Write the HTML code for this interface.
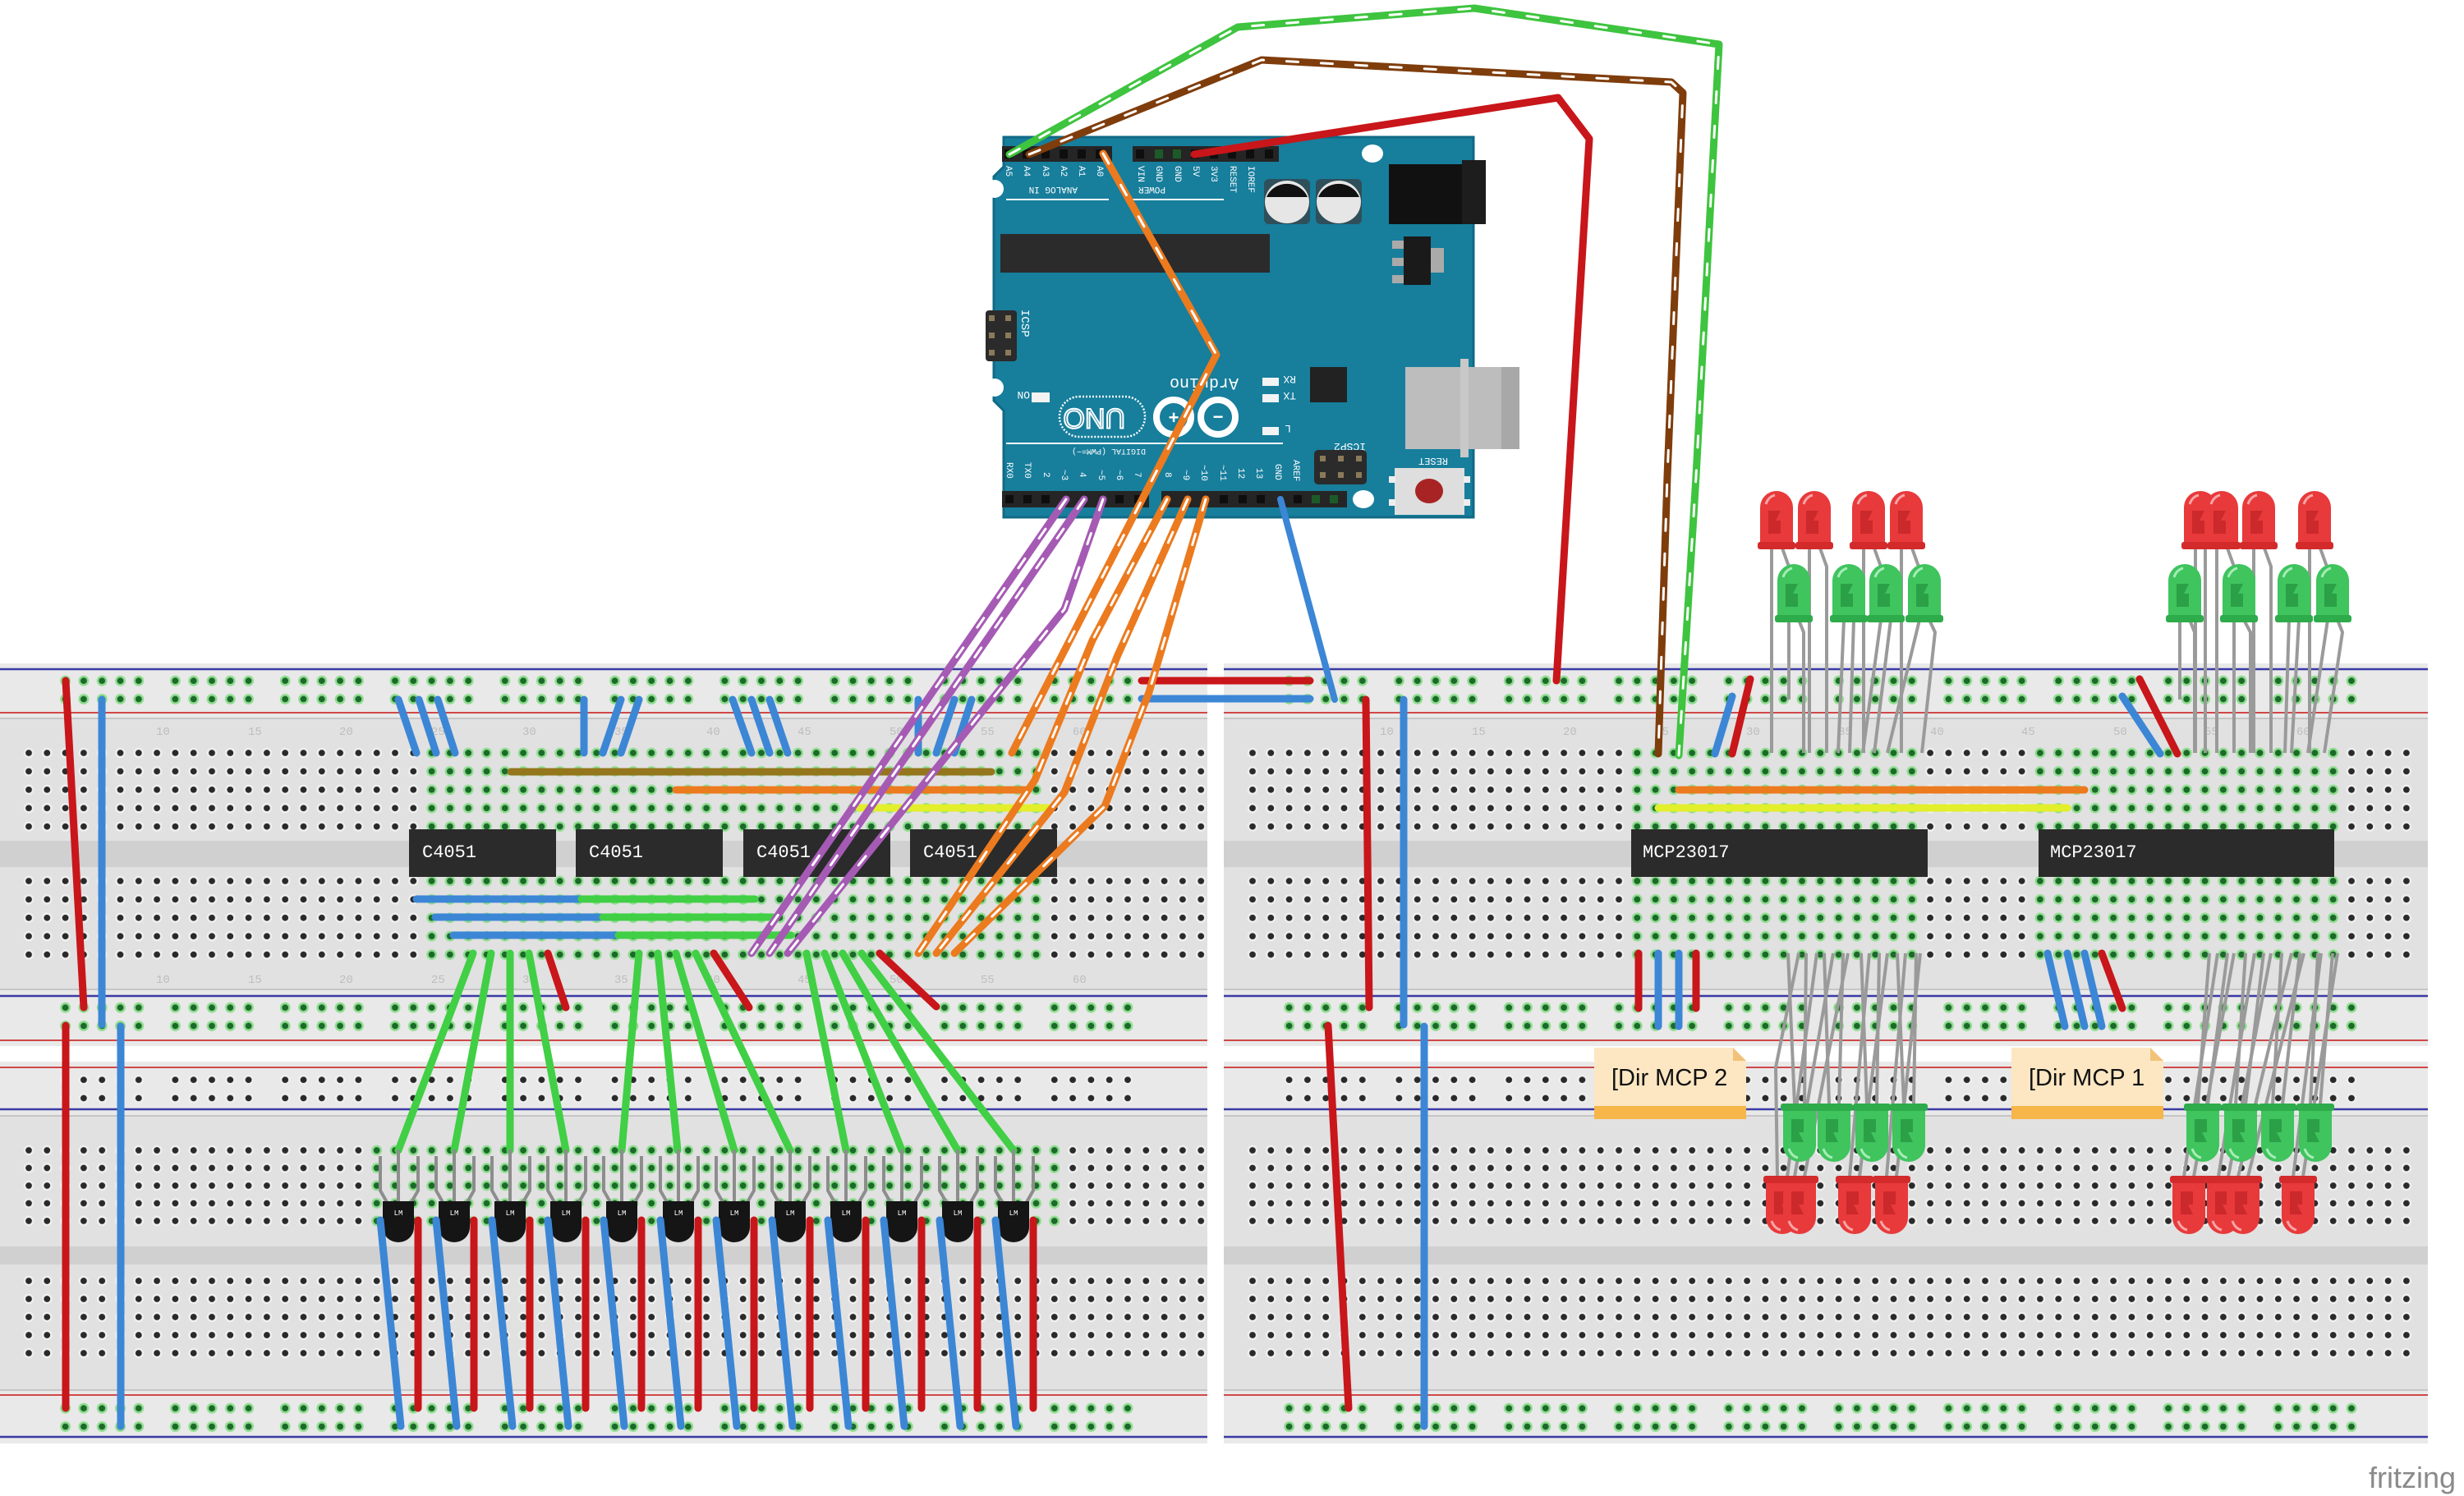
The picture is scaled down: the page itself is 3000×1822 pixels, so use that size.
<!DOCTYPE html>
<html><head><meta charset="utf-8"><style>
html,body{margin:0;padding:0;background:#fff}
svg{display:block}
</style></head><body>
<svg width="3000" height="1822" viewBox="0 0 3000 1822" xmlns="http://www.w3.org/2000/svg" font-family="Liberation Sans, sans-serif">
<defs>
<pattern id="hd" width="22.3" height="22.4" patternUnits="userSpaceOnUse"><circle cx="11.15" cy="11.2" r="6.2" fill="#f0f0f0"/><circle cx="11.15" cy="11.2" r="3.9" fill="#2a2a2a"/></pattern>
<pattern id="hg" width="22.3" height="22.4" patternUnits="userSpaceOnUse"><circle cx="11.15" cy="11.2" r="6.4" fill="#8fdc8f"/><circle cx="11.15" cy="11.2" r="3.9" fill="#1c6a2a"/></pattern>
<pattern id="hdB" width="22.3" height="21.5" patternUnits="userSpaceOnUse"><circle cx="11.15" cy="10.75" r="6.2" fill="#f0f0f0"/><circle cx="11.15" cy="10.75" r="3.9" fill="#2a2a2a"/></pattern>
<pattern id="hgB" width="22.3" height="21.5" patternUnits="userSpaceOnUse"><circle cx="11.15" cy="10.75" r="6.4" fill="#8fdc8f"/><circle cx="11.15" cy="10.75" r="3.9" fill="#1c6a2a"/></pattern>
<pattern id="hdC" width="22.3" height="22" patternUnits="userSpaceOnUse"><circle cx="11.15" cy="11" r="6.2" fill="#f0f0f0"/><circle cx="11.15" cy="11" r="3.9" fill="#2a2a2a"/></pattern>
<pattern id="rd" width="133.8" height="22.3" patternUnits="userSpaceOnUse">
<g fill="#f0f0f0"><circle cx="11.15" cy="11.15" r="6.2"/><circle cx="33.45" cy="11.15" r="6.2"/><circle cx="55.75" cy="11.15" r="6.2"/><circle cx="78.05" cy="11.15" r="6.2"/><circle cx="100.35" cy="11.15" r="6.2"/></g>
<g fill="#2a2a2a"><circle cx="11.15" cy="11.15" r="3.9"/><circle cx="33.45" cy="11.15" r="3.9"/><circle cx="55.75" cy="11.15" r="3.9"/><circle cx="78.05" cy="11.15" r="3.9"/><circle cx="100.35" cy="11.15" r="3.9"/></g></pattern>
<pattern id="rg" width="133.8" height="22.3" patternUnits="userSpaceOnUse">
<g fill="#8fdc8f"><circle cx="11.15" cy="11.15" r="6.4"/><circle cx="33.45" cy="11.15" r="6.4"/><circle cx="55.75" cy="11.15" r="6.4"/><circle cx="78.05" cy="11.15" r="6.4"/><circle cx="100.35" cy="11.15" r="6.4"/></g>
<g fill="#1c6a2a"><circle cx="11.15" cy="11.15" r="3.9"/><circle cx="33.45" cy="11.15" r="3.9"/><circle cx="55.75" cy="11.15" r="3.9"/><circle cx="78.05" cy="11.15" r="3.9"/><circle cx="100.35" cy="11.15" r="3.9"/></g></pattern>

<g id="ledR"><path d="M-20,70 L-20,20 A20,20 0 0 1 20,20 L20,70 Z" fill="#e8393b"/><rect x="-23" y="62" width="46" height="9" rx="3" fill="#d32a2c"/><path d="M-10,24 h15 l-6,12 h6 v16 h-15z" fill="#bf2226" opacity=".7"/><path d="M-13,16 q3,-9 11,-11" stroke="#f8a5a5" stroke-width="3" fill="none"/></g>
<g id="ledG"><path d="M-20,70 L-20,20 A20,20 0 0 1 20,20 L20,70 Z" fill="#3fc45e"/><rect x="-23" y="62" width="46" height="9" rx="3" fill="#2eab4b"/><path d="M-10,24 h15 l-6,12 h6 v16 h-15z" fill="#23913d" opacity=".7"/><path d="M-13,16 q3,-9 11,-11" stroke="#a6ecb6" stroke-width="3" fill="none"/></g>
<g id="lm">
<g stroke="#8d8d8d" stroke-width="4" fill="none"><path d="M0,8 V50 L8,64"/><path d="M22,0 V64"/><path d="M46,8 V50 L38,64"/></g>
<path d="M3,63 H41 V95 A19,18 0 0 1 3,95 Z" fill="#151515"/>
<text x="22" y="80" font-size="9" fill="#fff" text-anchor="middle" font-family="Liberation Mono, monospace">LM</text>
</g>
</defs>

<g id="boards">
<rect x="0" y="808" width="1470" height="466" fill="#e1e1e1"/>
<rect x="0" y="808" width="1470" height="67" fill="#e9e9e9"/>
<rect x="0" y="1205" width="1470" height="69" fill="#e9e9e9"/>
<rect x="0" y="1024" width="1470" height="32" fill="#d0d0d0"/>
<line x1="0" y1="815" x2="1470" y2="815" stroke="#3a3aa6" stroke-width="2.5"/>
<line x1="0" y1="868" x2="1470" y2="868" stroke="#d04848" stroke-width="2"/>
<line x1="0" y1="875" x2="1470" y2="875" stroke="#c6c6c6" stroke-width="2"/>
<line x1="0" y1="1205" x2="1470" y2="1205" stroke="#c6c6c6" stroke-width="2"/>
<line x1="0" y1="1213" x2="1470" y2="1213" stroke="#3a3aa6" stroke-width="2.5"/>
<line x1="0" y1="1267" x2="1470" y2="1267" stroke="#d04848" stroke-width="2"/>
<rect x="0" y="1293" width="1470" height="465" fill="#e1e1e1"/>
<rect x="0" y="1293" width="1470" height="66" fill="#e9e9e9"/>
<rect x="0" y="1693" width="1470" height="65" fill="#e9e9e9"/>
<rect x="0" y="1518" width="1470" height="22" fill="#d0d0d0"/>
<line x1="0" y1="1300" x2="1470" y2="1300" stroke="#d04848" stroke-width="2"/>
<line x1="0" y1="1351" x2="1470" y2="1351" stroke="#3a3aa6" stroke-width="2.5"/>
<line x1="0" y1="1359" x2="1470" y2="1359" stroke="#c6c6c6" stroke-width="2"/>
<line x1="0" y1="1693" x2="1470" y2="1693" stroke="#c6c6c6" stroke-width="2"/>
<line x1="0" y1="1699" x2="1470" y2="1699" stroke="#d04848" stroke-width="2"/>
<line x1="0" y1="1750" x2="1470" y2="1750" stroke="#3a3aa6" stroke-width="2.5"/>
<rect x="1490" y="808" width="1466" height="466" fill="#e1e1e1"/>
<rect x="1490" y="808" width="1466" height="67" fill="#e9e9e9"/>
<rect x="1490" y="1205" width="1466" height="69" fill="#e9e9e9"/>
<rect x="1490" y="1024" width="1466" height="32" fill="#d0d0d0"/>
<line x1="1490" y1="815" x2="2956" y2="815" stroke="#3a3aa6" stroke-width="2.5"/>
<line x1="1490" y1="868" x2="2956" y2="868" stroke="#d04848" stroke-width="2"/>
<line x1="1490" y1="875" x2="2956" y2="875" stroke="#c6c6c6" stroke-width="2"/>
<line x1="1490" y1="1205" x2="2956" y2="1205" stroke="#c6c6c6" stroke-width="2"/>
<line x1="1490" y1="1213" x2="2956" y2="1213" stroke="#3a3aa6" stroke-width="2.5"/>
<line x1="1490" y1="1267" x2="2956" y2="1267" stroke="#d04848" stroke-width="2"/>
<rect x="1490" y="1293" width="1466" height="465" fill="#e1e1e1"/>
<rect x="1490" y="1293" width="1466" height="66" fill="#e9e9e9"/>
<rect x="1490" y="1693" width="1466" height="65" fill="#e9e9e9"/>
<rect x="1490" y="1518" width="1466" height="22" fill="#d0d0d0"/>
<line x1="1490" y1="1300" x2="2956" y2="1300" stroke="#d04848" stroke-width="2"/>
<line x1="1490" y1="1351" x2="2956" y2="1351" stroke="#3a3aa6" stroke-width="2.5"/>
<line x1="1490" y1="1359" x2="2956" y2="1359" stroke="#c6c6c6" stroke-width="2"/>
<line x1="1490" y1="1693" x2="2956" y2="1693" stroke="#c6c6c6" stroke-width="2"/>
<line x1="1490" y1="1699" x2="2956" y2="1699" stroke="#d04848" stroke-width="2"/>
<line x1="1490" y1="1750" x2="2956" y2="1750" stroke="#3a3aa6" stroke-width="2.5"/>
</g>

<svg x="23.85" y="905.8" width="1450" height="112" overflow="visible"><rect width="1449.5" height="112" fill="url(#hd)"/></svg>
<svg x="514.45" y="905.8" width="760" height="112" overflow="visible"><rect width="758.2" height="112" fill="url(#hg)"/></svg>
<svg x="23.85" y="1061.8" width="1450" height="112" overflow="visible"><rect width="1449.5" height="112" fill="url(#hd)"/></svg>
<svg x="514.45" y="1061.8" width="760" height="112" overflow="visible"><rect width="758.2" height="112" fill="url(#hg)"/></svg>
<svg x="68.45" y="818" width="1340" height="46" overflow="visible"><rect width="1338" height="44.6" fill="url(#rg)"/></svg>
<svg x="68.45" y="1216" width="1340" height="46" overflow="visible"><rect width="1338" height="44.6" fill="url(#rg)"/></svg>
<svg x="23.85" y="1390.25" width="1450" height="108" overflow="visible"><rect width="1449.5" height="107.5" fill="url(#hdB)"/></svg>
<svg x="447.55" y="1390.25" width="850" height="108" overflow="visible"><rect width="847.4" height="107.5" fill="url(#hgB)"/></svg>
<svg x="23.85" y="1549" width="1450" height="110" overflow="visible"><rect width="1449.5" height="110" fill="url(#hdC)"/></svg>
<svg x="68.45" y="1304" width="1340" height="46" overflow="visible"><rect width="1338" height="44.6" fill="url(#rd)"/></svg>
<svg x="68.45" y="1704" width="1340" height="46" overflow="visible"><rect width="1338" height="44.6" fill="url(#rg)"/></svg>
<svg x="1513.85" y="905.8" width="1450" height="112" overflow="visible"><rect width="1427.2" height="112" fill="url(#hd)"/></svg>
<svg x="1982.15" y="905.8" width="360" height="112" overflow="visible"><rect width="356.8" height="112" fill="url(#hg)"/></svg>
<svg x="2472.75" y="905.8" width="380" height="112" overflow="visible"><rect width="379.1" height="112" fill="url(#hg)"/></svg>
<svg x="1513.85" y="1061.8" width="1450" height="112" overflow="visible"><rect width="1427.2" height="112" fill="url(#hd)"/></svg>
<svg x="1982.15" y="1061.8" width="360" height="112" overflow="visible"><rect width="356.8" height="112" fill="url(#hg)"/></svg>
<svg x="2472.75" y="1061.8" width="380" height="112" overflow="visible"><rect width="379.1" height="112" fill="url(#hg)"/></svg>
<svg x="1558.45" y="818" width="1340" height="46" overflow="visible"><rect width="1338" height="44.6" fill="url(#rg)"/></svg>
<svg x="1558.45" y="1216" width="1340" height="46" overflow="visible"><rect width="1338" height="44.6" fill="url(#rg)"/></svg>
<svg x="1513.85" y="1390.25" width="1450" height="108" overflow="visible"><rect width="1427.2" height="107.5" fill="url(#hdB)"/></svg>
<svg x="1513.85" y="1549" width="1450" height="110" overflow="visible"><rect width="1427.2" height="110" fill="url(#hdC)"/></svg>
<svg x="1558.45" y="1304" width="1340" height="46" overflow="visible"><rect width="1338" height="44.6" fill="url(#rd)"/></svg>
<svg x="1558.45" y="1704" width="1340" height="46" overflow="visible"><rect width="1338" height="44.6" fill="url(#rg)"/></svg>

<g font-size="14" fill="#bdbdbd" font-family="Liberation Mono, monospace">
<text x="190" y="895">10</text><text x="302" y="895">15</text><text x="413" y="895">20</text><text x="525" y="895">25</text><text x="636" y="895">30</text><text x="748" y="895">35</text><text x="860" y="895">40</text><text x="971" y="895">45</text><text x="1083" y="895">50</text><text x="1194" y="895">55</text><text x="1306" y="895">60</text>
<text x="190" y="1197">10</text><text x="302" y="1197">15</text><text x="413" y="1197">20</text><text x="525" y="1197">25</text><text x="636" y="1197">30</text><text x="748" y="1197">35</text><text x="860" y="1197">40</text><text x="971" y="1197">45</text><text x="1083" y="1197">50</text><text x="1194" y="1197">55</text><text x="1306" y="1197">60</text>
<text x="1680" y="895">10</text><text x="1792" y="895">15</text><text x="1903" y="895">20</text><text x="2015" y="895">25</text><text x="2126" y="895">30</text><text x="2238" y="895">35</text><text x="2350" y="895">40</text><text x="2461" y="895">45</text><text x="2573" y="895">50</text><text x="2684" y="895">55</text><text x="2796" y="895">60</text>
</g>

<g fill="#2b2b2b">
<rect x="498" y="1010" width="179" height="58"/><rect x="701" y="1010" width="179" height="58"/><rect x="905" y="1010" width="179" height="58"/><rect x="1108" y="1010" width="179" height="58"/>
<rect x="1986" y="1010" width="361" height="58"/><rect x="2482" y="1010" width="360" height="58"/>
</g>
<g fill="#fff" font-family="Liberation Mono, monospace" font-size="22">
<text x="514" y="1044">C4051</text><text x="717" y="1044">C4051</text><text x="921" y="1044">C4051</text><text x="1124" y="1044">C4051</text>
<text x="2000" y="1044">MCP23017</text><text x="2496" y="1044">MCP23017</text>
</g>

<g stroke-linecap="round" fill="none" stroke-width="9">
<line x1="80" y1="829" x2="102" y2="1227" stroke="#c8161a"/>
<line x1="124" y1="852" x2="124" y2="1248" stroke="#3c86d6"/>
<line x1="80" y1="1249" x2="80" y2="1715" stroke="#c8161a"/>
<line x1="147" y1="1250" x2="147" y2="1737" stroke="#3c86d6"/>
<g stroke="#3c86d6">
<line x1="485" y1="852" x2="507" y2="917"/><line x1="510" y1="852" x2="531" y2="917"/><line x1="533" y1="852" x2="554" y2="917"/>
<line x1="711" y1="852" x2="711" y2="917"/><line x1="756" y1="852" x2="734" y2="917"/><line x1="778" y1="852" x2="756" y2="917"/>
<line x1="892" y1="852" x2="915" y2="917"/><line x1="915" y1="852" x2="937" y2="917"/><line x1="937" y1="852" x2="959" y2="917"/>
<line x1="1118" y1="852" x2="1118" y2="917"/><line x1="1162" y1="852" x2="1140" y2="917"/><line x1="1183" y1="852" x2="1162" y2="917"/>
</g>
<line x1="622" y1="940" x2="1207" y2="940" stroke="#94771d"/>
<line x1="823" y1="962" x2="1252" y2="962" stroke="#ec7a1e"/>
<line x1="1046" y1="984" x2="1279" y2="984" stroke="#e2ef2a"/>
<line x1="507" y1="1095" x2="708" y2="1095" stroke="#3c86d6"/><line x1="708" y1="1095" x2="919" y2="1095" stroke="#41cf45"/>
<line x1="530" y1="1117" x2="734" y2="1117" stroke="#3c86d6"/><line x1="734" y1="1117" x2="941" y2="1117" stroke="#41cf45"/>
<line x1="552" y1="1139" x2="753" y2="1139" stroke="#3c86d6"/><line x1="753" y1="1139" x2="963" y2="1139" stroke="#41cf45"/>
<g stroke="#c8161a">
<line x1="667" y1="1161" x2="689" y2="1227"/><line x1="869" y1="1161" x2="912" y2="1227"/><line x1="1071" y1="1161" x2="1140" y2="1226"/>
</g>
<g stroke="#41cf45">
<line x1="576" y1="1161" x2="485" y2="1401"/><line x1="598" y1="1161" x2="553" y2="1401"/><line x1="621" y1="1161" x2="621" y2="1401"/><line x1="644" y1="1161" x2="689" y2="1401"/>
<line x1="778" y1="1161" x2="757" y2="1401"/><line x1="801" y1="1161" x2="825" y2="1401"/><line x1="823" y1="1161" x2="894" y2="1401"/><line x1="847" y1="1161" x2="962" y2="1401"/>
<line x1="982" y1="1161" x2="1030" y2="1401"/><line x1="1004" y1="1161" x2="1098" y2="1401"/><line x1="1026" y1="1161" x2="1166" y2="1401"/><line x1="1049" y1="1161" x2="1234" y2="1401"/>
</g>
</g>

<use href="#lm" x="463" y="1400"/><use href="#lm" x="531" y="1400"/><use href="#lm" x="599" y="1400"/><use href="#lm" x="667" y="1400"/>
<use href="#lm" x="735" y="1400"/><use href="#lm" x="804" y="1400"/><use href="#lm" x="872" y="1400"/><use href="#lm" x="940" y="1400"/>
<use href="#lm" x="1008" y="1400"/><use href="#lm" x="1076" y="1400"/><use href="#lm" x="1144" y="1400"/><use href="#lm" x="1212" y="1400"/>
<g stroke-linecap="round" fill="none" stroke-width="9">
<g stroke="#c8161a">
<line x1="509" y1="1486" x2="509" y2="1715"/><line x1="577" y1="1486" x2="577" y2="1715"/><line x1="645" y1="1486" x2="645" y2="1715"/><line x1="713" y1="1486" x2="713" y2="1715"/>
<line x1="781" y1="1486" x2="781" y2="1715"/><line x1="850" y1="1486" x2="850" y2="1715"/><line x1="918" y1="1486" x2="918" y2="1715"/><line x1="986" y1="1486" x2="986" y2="1715"/>
<line x1="1054" y1="1486" x2="1054" y2="1715"/><line x1="1122" y1="1486" x2="1122" y2="1715"/><line x1="1190" y1="1486" x2="1190" y2="1715"/><line x1="1258" y1="1486" x2="1258" y2="1715"/>
</g>
<g stroke="#3c86d6">
<line x1="463" y1="1486" x2="488" y2="1737"/><line x1="531" y1="1486" x2="556" y2="1737"/><line x1="599" y1="1486" x2="624" y2="1737"/><line x1="667" y1="1486" x2="692" y2="1737"/>
<line x1="735" y1="1486" x2="760" y2="1737"/><line x1="804" y1="1486" x2="829" y2="1737"/><line x1="872" y1="1486" x2="897" y2="1737"/><line x1="940" y1="1486" x2="965" y2="1737"/>
<line x1="1008" y1="1486" x2="1033" y2="1737"/><line x1="1076" y1="1486" x2="1101" y2="1737"/><line x1="1144" y1="1486" x2="1169" y2="1737"/><line x1="1212" y1="1486" x2="1237" y2="1737"/>
</g>
</g>

<g stroke-linecap="round" fill="none" stroke-width="9">
<line x1="1663" y1="852" x2="1667" y2="1227" stroke="#c8161a"/>
<line x1="1709" y1="852" x2="1709" y2="1248" stroke="#3c86d6"/>
<line x1="1617" y1="1249" x2="1642" y2="1715" stroke="#c8161a"/>
<line x1="1734" y1="1250" x2="1734" y2="1737" stroke="#3c86d6"/>
<line x1="2109" y1="848" x2="2088" y2="918" stroke="#3c86d6"/><line x1="2131" y1="827" x2="2109" y2="918" stroke="#c8161a"/>
<line x1="2584" y1="848" x2="2630" y2="918" stroke="#3c86d6"/><line x1="2605" y1="827" x2="2651" y2="918" stroke="#c8161a"/>
<line x1="2044" y1="962" x2="2538" y2="962" stroke="#ec7a1e"/>
<line x1="2019" y1="984" x2="2517" y2="984" stroke="#e2ef2a"/>
<line x1="1995" y1="1161" x2="1995" y2="1228" stroke="#c8161a"/><line x1="2019" y1="1161" x2="2019" y2="1250" stroke="#3c86d6"/><line x1="2044" y1="1161" x2="2044" y2="1250" stroke="#3c86d6"/><line x1="2065" y1="1161" x2="2065" y2="1228" stroke="#c8161a"/>
<line x1="2493" y1="1161" x2="2514" y2="1250" stroke="#3c86d6"/><line x1="2517" y1="1161" x2="2538" y2="1250" stroke="#3c86d6"/><line x1="2538" y1="1161" x2="2559" y2="1250" stroke="#3c86d6"/><line x1="2559" y1="1161" x2="2584" y2="1228" stroke="#c8161a"/>
<line x1="1390" y1="829" x2="1595" y2="829" stroke="#c8161a"/>
<line x1="1390" y1="851" x2="1595" y2="851" stroke="#3c86d6"/>
</g>

<g stroke="#9a9a9a" stroke-width="4" fill="none">
<path d="M2157,665 V917"/><path d="M2169,665 L2178,690"/><path d="M2203,665 V917"/><path d="M2215,665 L2224,690 V917"/><path d="M2269,665 V917"/><path d="M2281,665 L2290,690"/><path d="M2315,665 V917"/><path d="M2327,665 L2336,690"/>
<path d="M2178,755 V852"/><path d="M2190,755 L2196,770 V917"/><path d="M2245,755 L2238,917"/><path d="M2257,755 L2252,917"/><path d="M2290,755 L2268,917"/><path d="M2302,755 L2282,917"/><path d="M2337,755 L2298,917"/><path d="M2349,755 L2356,770 L2340,917"/>
<path d="M2673,665 V917"/><path d="M2685,665 V917"/><path d="M2699,665 V917"/><path d="M2711,665 L2720,690 V917"/><path d="M2744,665 V917"/><path d="M2756,665 L2765,690 V917"/><path d="M2812,665 V917"/><path d="M2824,665 L2833,690"/>
<path d="M2654,755 V852"/><path d="M2666,755 L2672,770 V917"/><path d="M2720,755 V852"/><path d="M2732,755 L2740,770 V917"/><path d="M2787,755 L2782,917"/><path d="M2799,755 L2790,917"/><path d="M2834,755 L2810,917"/><path d="M2846,755 L2852,770 L2830,917"/>
</g>
<use href="#ledR" x="2163" y="598"/><use href="#ledR" x="2209" y="598"/><use href="#ledR" x="2275" y="598"/><use href="#ledR" x="2321" y="598"/>
<use href="#ledG" x="2184" y="687"/><use href="#ledG" x="2251" y="687"/><use href="#ledG" x="2296" y="687"/><use href="#ledG" x="2343" y="687"/>
<use href="#ledR" x="2679" y="598"/><use href="#ledR" x="2705" y="598"/><use href="#ledR" x="2750" y="598"/><use href="#ledR" x="2818" y="598"/>
<use href="#ledG" x="2660" y="687"/><use href="#ledG" x="2726" y="687"/><use href="#ledG" x="2793" y="687"/><use href="#ledG" x="2840" y="687"/>

<g>
<path d="M1941,1276 H2110 L2126,1292 V1363 H1941 Z" fill="#fde7c2"/>
<path d="M2110,1276 V1292 H2126 Z" fill="#f2c27a"/>
<rect x="1941" y="1347" width="185" height="16" fill="#f6b64a"/>
<text x="1962" y="1322" font-size="29" fill="#111">[Dir MCP 2</text>
<path d="M2449,1276 H2618 L2634,1292 V1363 H2449 Z" fill="#fde7c2"/>
<path d="M2618,1276 V1292 H2634 Z" fill="#f2c27a"/>
<rect x="2449" y="1347" width="185" height="16" fill="#f6b64a"/>
<text x="2470" y="1322" font-size="29" fill="#111">[Dir MCP 1</text>
</g>

<g stroke="#9a9a9a" stroke-width="4" fill="none">
<path d="M2177,1161 L2185,1345"/><path d="M2199,1161 L2197,1345"/><path d="M2221,1161 L2227,1345"/><path d="M2244,1161 L2239,1345"/><path d="M2266,1161 L2273,1345"/><path d="M2288,1161 L2285,1345"/><path d="M2310,1161 L2318,1345"/><path d="M2333,1161 L2330,1345"/>
<path d="M2190,1161 L2162,1300 L2164,1433"/><path d="M2212,1161 L2176,1433"/><path d="M2232,1161 L2185,1433"/><path d="M2250,1161 L2197,1433"/><path d="M2276,1161 L2252,1433"/><path d="M2298,1161 L2264,1433"/><path d="M2320,1161 L2297,1433"/><path d="M2338,1161 L2309,1433"/>
<path d="M2690,1161 L2676,1345"/><path d="M2712,1161 L2688,1345"/><path d="M2734,1161 L2722,1345"/><path d="M2756,1161 L2734,1345"/><path d="M2778,1161 L2767,1345"/><path d="M2800,1161 L2779,1345"/><path d="M2822,1161 L2813,1345"/><path d="M2840,1161 L2825,1345"/>
<path d="M2700,1161 L2659,1433"/><path d="M2720,1161 L2671,1433"/><path d="M2745,1161 L2701,1433"/><path d="M2765,1161 L2713,1433"/><path d="M2790,1161 L2725,1433"/><path d="M2805,1161 L2737,1433"/><path d="M2826,1161 L2792,1433"/><path d="M2846,1161 L2804,1433"/>
</g>
<use href="#ledG" transform="translate(2191,1415) scale(1,-1)"/><use href="#ledG" transform="translate(2233,1415) scale(1,-1)"/><use href="#ledG" transform="translate(2279,1415) scale(1,-1)"/><use href="#ledG" transform="translate(2324,1415) scale(1,-1)"/>
<use href="#ledR" transform="translate(2170,1503) scale(1,-1)"/><use href="#ledR" transform="translate(2191,1503) scale(1,-1)"/><use href="#ledR" transform="translate(2258,1503) scale(1,-1)"/><use href="#ledR" transform="translate(2303,1503) scale(1,-1)"/>
<use href="#ledG" transform="translate(2682,1415) scale(1,-1)"/><use href="#ledG" transform="translate(2728,1415) scale(1,-1)"/><use href="#ledG" transform="translate(2773,1415) scale(1,-1)"/><use href="#ledG" transform="translate(2819,1415) scale(1,-1)"/>
<use href="#ledR" transform="translate(2665,1503) scale(1,-1)"/><use href="#ledR" transform="translate(2707,1503) scale(1,-1)"/><use href="#ledR" transform="translate(2731,1503) scale(1,-1)"/><use href="#ledR" transform="translate(2798,1503) scale(1,-1)"/>

<g>
<path d="M1222,167 H1794 V630 H1222 V500 L1210,488 V215 L1222,203 Z" fill="#177e9c" stroke="#106a86" stroke-width="3"/>
<circle cx="1211" cy="230" r="11" fill="#fff"/><circle cx="1211" cy="472" r="11" fill="#fff"/>
<ellipse cx="1671" cy="187" rx="13" ry="11" fill="#fff"/><ellipse cx="1660" cy="608" rx="13" ry="11" fill="#fff"/>
<rect x="1220" y="178" width="134" height="19" fill="#252525"/>
<rect x="1379" y="178" width="178" height="19" fill="#252525"/>
<g fill="#0e0e0e"><rect x="1223" y="182" width="10" height="11"/><rect x="1245" y="182" width="10" height="11"/><rect x="1268" y="182" width="10" height="11"/><rect x="1290" y="182" width="10" height="11"/><rect x="1312" y="182" width="10" height="11"/><rect x="1334" y="182" width="10" height="11"/>
<rect x="1383" y="182" width="10" height="11"/><rect x="1406" y="182" width="10" height="11" fill="#1d5a2a"/><rect x="1428" y="182" width="10" height="11" fill="#1d5a2a"/><rect x="1450" y="182" width="10" height="11"/><rect x="1473" y="182" width="10" height="11"/><rect x="1495" y="182" width="10" height="11"/><rect x="1517" y="182" width="10" height="11"/><rect x="1540" y="182" width="10" height="11"/></g>
<g fill="#fff" font-family="Liberation Mono, monospace" font-size="11">
<text transform="translate(1225,202) rotate(90)">A5</text><text transform="translate(1247,202) rotate(90)">A4</text><text transform="translate(1270,202) rotate(90)">A3</text><text transform="translate(1292,202) rotate(90)">A2</text><text transform="translate(1314,202) rotate(90)">A1</text><text transform="translate(1336,202) rotate(90)">A0</text>
<text transform="translate(1386,202) rotate(90)">VIN</text><text transform="translate(1408,202) rotate(90)">GND</text><text transform="translate(1431,202) rotate(90)">GND</text><text transform="translate(1453,202) rotate(90)">5V</text><text transform="translate(1475,202) rotate(90)">3V3</text><text transform="translate(1498,202) rotate(90)">RESET</text><text transform="translate(1520,202) rotate(90)">IOREF</text>
<text transform="translate(1312,228) rotate(180)">ANALOG IN</text><text transform="translate(1419,228) rotate(180)">POWER</text>
</g>
<line x1="1225" y1="243" x2="1350" y2="243" stroke="#fff" stroke-width="2"/><line x1="1376" y1="243" x2="1490" y2="243" stroke="#fff" stroke-width="2"/>
<rect x="1539" y="218" width="56" height="55" rx="6" fill="#2f4f5a"/><rect x="1602" y="218" width="56" height="55" rx="6" fill="#2f4f5a"/>
<ellipse cx="1567" cy="246" rx="27" ry="26" fill="#e6e6e6"/><ellipse cx="1630" cy="246" rx="27" ry="26" fill="#e6e6e6"/>
<path d="M1542,240 A27,26 0 0 1 1592,240 Z" fill="#111"/><path d="M1605,240 A27,26 0 0 1 1655,240 Z" fill="#111"/>
<rect x="1691" y="200" width="118" height="73" fill="#111"/><rect x="1780" y="195" width="29" height="78" fill="#1d1d1d"/>
<rect x="1695" y="293" width="14" height="10" fill="#aaa"/><rect x="1695" y="314" width="14" height="10" fill="#aaa"/><rect x="1695" y="335" width="14" height="10" fill="#aaa"/>
<rect x="1742" y="302" width="16" height="30" fill="#aaa"/><rect x="1709" y="288" width="33" height="59" fill="#1a1a1a"/>
<rect x="1218" y="285" width="328" height="47" fill="#2b2b2b"/>
<rect x="1200" y="378" width="38" height="62" rx="4" fill="#2b2b2b"/>
<g fill="#8a7a5a"><rect x="1204" y="384" width="7" height="7"/><rect x="1224" y="384" width="7" height="7"/><rect x="1204" y="405" width="7" height="7"/><rect x="1224" y="405" width="7" height="7"/><rect x="1204" y="426" width="7" height="7"/><rect x="1224" y="426" width="7" height="7"/></g>
<text transform="translate(1244,377) rotate(90)" font-size="14" fill="#fff" font-family="Liberation Mono, monospace">ICSP</text>
<rect x="1595" y="447" width="45" height="43" fill="#222"/>
<g fill="#f3f3f3"><rect x="1537" y="460" width="20" height="10"/><rect x="1537" y="480" width="20" height="10"/><rect x="1537" y="520" width="20" height="10"/><rect x="1256" y="478" width="22" height="12"/></g>
<g fill="#fff" font-size="13" font-family="Liberation Mono, monospace">
<text transform="translate(1578,458) rotate(180)">RX</text><text transform="translate(1578,478) rotate(180)">TX</text><text transform="translate(1572,518) rotate(180)">L</text><text transform="translate(1254,477) rotate(180)">ON</text>
<text transform="translate(1508,461) rotate(180)" font-size="20">Arduino</text>
<text transform="translate(1663,540) rotate(180)" font-size="13">ICSP2</text>
<text transform="translate(1763,558) rotate(180)" font-size="12">RESET</text>
</g>
<rect x="1290" y="483" width="104" height="49" rx="24" fill="none" stroke="#fff" stroke-width="2.5" stroke-dasharray="2 2"/>
<text transform="translate(1370,498) rotate(180)" font-size="34" fill="none" stroke="#fff" stroke-width="2" font-family="Liberation Sans, sans-serif">UNO</text>
<circle cx="1429" cy="508" r="21" fill="none" stroke="#fff" stroke-width="8"/><circle cx="1483" cy="508" r="21" fill="none" stroke="#fff" stroke-width="8"/>
<text x="1429" y="516" font-size="22" fill="#fff" text-anchor="middle" font-weight="bold">+</text><text x="1483" y="515" font-size="22" fill="#fff" text-anchor="middle" font-weight="bold">−</text>
<line x1="1225" y1="540" x2="1562" y2="540" stroke="#fff" stroke-width="2"/>
<text transform="translate(1395,547) rotate(180)" font-size="10" fill="#fff" font-family="Liberation Mono, monospace">DIGITAL (PWM=~)</text>
<g fill="#fff" font-family="Liberation Mono, monospace" font-size="11">
<text transform="translate(1226,563) rotate(90)">RX0</text><text transform="translate(1248,563) rotate(90)">TX0</text><text transform="translate(1271,575) rotate(90)">2</text><text transform="translate(1293,572) rotate(90)">~3</text><text transform="translate(1315,575) rotate(90)">4</text><text transform="translate(1338,572) rotate(90)">~5</text><text transform="translate(1360,572) rotate(90)">~6</text><text transform="translate(1382,575) rotate(90)">7</text>
<text transform="translate(1419,575) rotate(90)">8</text><text transform="translate(1441,572) rotate(90)">~9</text><text transform="translate(1463,566) rotate(90)">~10</text><text transform="translate(1486,566) rotate(90)">~11</text><text transform="translate(1508,570) rotate(90)">12</text><text transform="translate(1530,570) rotate(90)">13</text><text transform="translate(1553,565) rotate(90)">GND</text><text transform="translate(1575,560) rotate(90)">AREF</text>
</g>
<rect x="1220" y="598" width="179" height="20" fill="#252525"/><rect x="1414" y="598" width="226" height="20" fill="#252525"/>
<g fill="#0e0e0e"><rect x="1224" y="603" width="10" height="10"/><rect x="1246" y="603" width="10" height="10"/><rect x="1268" y="603" width="10" height="10"/><rect x="1381" y="603" width="10" height="10"/><rect x="1358" y="603" width="10" height="10"/><rect x="1485" y="603" width="10" height="10"/><rect x="1508" y="603" width="10" height="10"/><rect x="1530" y="603" width="10" height="10"/><rect x="1575" y="603" width="10" height="10"/><rect x="1597" y="603" width="10" height="10" fill="#1d5a2a"/><rect x="1619" y="603" width="10" height="10" fill="#1d5a2a"/></g>
<rect x="1600" y="548" width="64" height="42" rx="5" fill="#2b2b2b"/>
<g fill="#8a7a5a"><rect x="1607" y="555" width="7" height="7"/><rect x="1629" y="555" width="7" height="7"/><rect x="1651" y="555" width="7" height="7"/><rect x="1607" y="575" width="7" height="7"/><rect x="1629" y="575" width="7" height="7"/><rect x="1651" y="575" width="7" height="7"/></g>
<rect x="1698" y="570" width="85" height="57" fill="#dedede"/>
<g fill="#eee"><rect x="1691" y="580" width="8" height="8"/><rect x="1691" y="608" width="8" height="8"/><rect x="1782" y="580" width="8" height="8"/><rect x="1782" y="608" width="8" height="8"/></g>
<ellipse cx="1740" cy="598" rx="17" ry="15" fill="#a82424"/>
<rect x="1711" y="447" width="139" height="100" fill="#bdbdbd"/><rect x="1828" y="447" width="22" height="100" fill="#a8a8a8"/>
<rect x="1778" y="437" width="10" height="120" fill="#c8c8c8"/>
</g>

<g stroke-linecap="round" stroke-linejoin="round" fill="none">
<polyline points="1229,188 1507,33 1795,10 2093,54 2065,580 2044,920" stroke="#3ec43f" stroke-width="9"/>
<polyline points="1229,188 1507,33 1795,10 2093,54 2065,580 2044,920" stroke="#fff" stroke-width="3" stroke-dasharray="14 28"/>
<polyline points="1253,188 1536,73 2035,100 2049,113 2030,580 2019,918" stroke="#7f3d0c" stroke-width="9"/>
<polyline points="1253,188 1536,73 2035,100 2049,113 2030,580 2019,918" stroke="#fff" stroke-width="3" stroke-dasharray="14 28"/>
<polyline points="1454,188 1897,119 1935,169 1895,829" stroke="#c8161a" stroke-width="9"/>
<polyline points="1559,608 1625,852" stroke="#3c86d6" stroke-width="8"/>
<g stroke="#a55ab4" stroke-width="9"><line x1="1298" y1="608" x2="915" y2="1161"/><line x1="1320" y1="608" x2="937" y2="1161"/><polyline points="1343,608 1296,742 959,1161"/></g>
<g stroke="#fff" stroke-width="3" stroke-dasharray="14 30"><line x1="1298" y1="608" x2="915" y2="1161"/><line x1="1320" y1="608" x2="937" y2="1161"/><polyline points="1343,608 1296,742 959,1161"/></g>
<g stroke="#ec7a1e" stroke-width="9">
<polyline points="1343,187 1481,432 1232,917"/>
<polyline points="1421,608 1330,780 1260,950 1118,1161"/>
<polyline points="1446,608 1360,800 1296,965 1140,1161"/>
<polyline points="1468,608 1399,843 1345,982 1162,1161"/>
</g>
<g stroke="#fff" stroke-width="3" stroke-dasharray="14 30">
<polyline points="1343,187 1481,432 1232,917"/>
<polyline points="1421,608 1330,780 1260,950 1118,1161"/>
<polyline points="1446,608 1360,800 1296,965 1140,1161"/>
<polyline points="1468,608 1399,843 1345,982 1162,1161"/>
</g>
</g>

<text x="2990" y="1812" text-anchor="end" font-size="36" fill="#8a8a8a">fritzing</text>
</svg>
</body></html>
